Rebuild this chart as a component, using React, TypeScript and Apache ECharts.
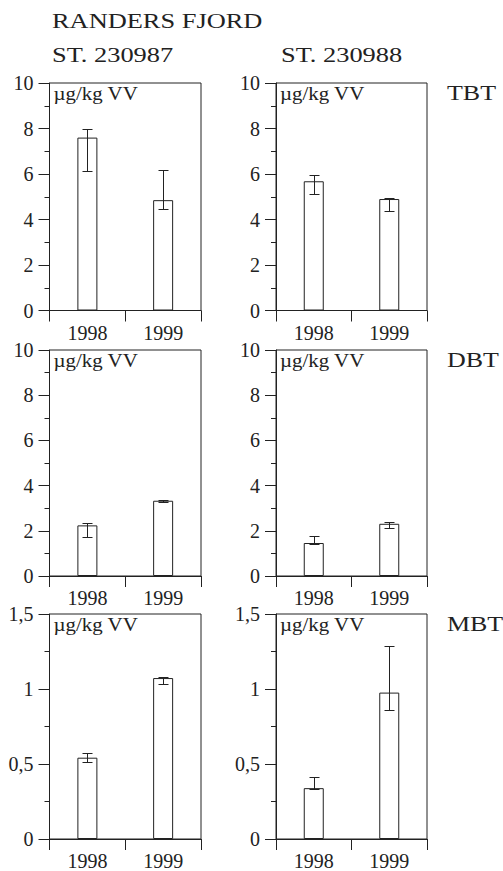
import React, { useEffect, useRef } from "react";
import * as echarts from "echarts";

// ---- Data ----
const years = ["1998", "1999"];

// TBT (µg/kg VV)
const tbtSt230987 = [7.6, 4.85];
const tbtSt230987Err = [[6.15, 7.97], [4.44, 6.19]];
const tbtSt230988 = [5.68, 4.9];
const tbtSt230988Err = [[5.1, 5.95], [4.37, 4.95]];

// DBT (µg/kg VV)
const dbtSt230987 = [2.24, 3.33];
const dbtSt230987Err = [[1.74, 2.36], [3.26, 3.35]];
const dbtSt230988 = [1.46, 2.31];
const dbtSt230988Err = [[1.4, 1.75], [2.11, 2.39]];

// MBT (µg/kg VV)
const mbtSt230987 = [0.542, 1.073];
const mbtSt230987Err = [[0.515, 0.571], [1.031, 1.077]];
const mbtSt230988 = [0.339, 0.976];
const mbtSt230988Err = [[0.333, 0.416], [0.859, 1.289]];

const axisTBT = { max: 10, interval: 2 };
const axisDBT = { max: 10, interval: 2 };
const axisMBT = { max: 1.5, interval: 0.5 };

const stations = ["ST. 230987", "ST. 230988"];
const compounds = ["TBT", "DBT", "MBT"];
const titleText = "RANDERS FJORD";
const unitText = "µg/kg VV";

const INK = "#222";
const FONT = "Liberation Serif";

const panelData = [
  { values: tbtSt230987, err: tbtSt230987Err, axis: axisTBT },
  { values: tbtSt230988, err: tbtSt230988Err, axis: axisTBT },
  { values: dbtSt230987, err: dbtSt230987Err, axis: axisDBT },
  { values: dbtSt230988, err: dbtSt230988Err, axis: axisDBT },
  { values: mbtSt230987, err: mbtSt230987Err, axis: axisMBT },
  { values: mbtSt230988, err: mbtSt230988Err, axis: axisMBT },
];

// layout (px)
const colLeft = [49.5, 276];
const colWidth = [151.5, 151];
const rowTop = [83, 350, 614];
const rowHeight = [227.5, 226, 226];

export default function App() {
  const ref = useRef<HTMLDivElement>(null);

  useEffect(() => {
    if (!ref.current) return;
    const chart = echarts.init(ref.current, null, { renderer: "svg" });

    const grids: any[] = [];
    const xAxes: any[] = [];
    const yAxes: any[] = [];
    const series: any[] = [];
    const graphics: any[] = [];

    panelData.forEach((p, i) => {
      const col = i % 2;
      const row = Math.floor(i / 2);
      const left = colLeft[col];
      const top = rowTop[row];
      grids.push({
        left,
        top,
        width: colWidth[col],
        height: rowHeight[row],
        show: true,
        borderColor: INK,
        borderWidth: 1,
        backgroundColor: "transparent",
        containLabel: false,
      });
      xAxes.push({
        type: "category",
        gridIndex: i,
        data: years,
        boundaryGap: true,
        axisLine: { show: true, lineStyle: { color: INK, width: 1 } },
        axisTick: {
          show: true,
          inside: false,
          length: 11,
          alignWithLabel: false,
          lineStyle: { color: INK, width: 1 },
        },
        axisLabel: {
          show: true,
          margin: 12,
          color: INK,
          fontFamily: FONT,
          fontSize: 20,
        },
        splitLine: { show: false },
      });
      yAxes.push({
        type: "value",
        gridIndex: i,
        min: 0,
        max: p.axis.max,
        interval: p.axis.interval,
        axisLine: { show: true, lineStyle: { color: INK, width: 1 } },
        axisTick: {
          show: true,
          inside: false,
          length: 11,
          lineStyle: { color: INK, width: 1 },
        },
        minorTick: {
          show: true,
          splitNumber: 2,
          length: 5,
          lineStyle: { color: INK, width: 1 },
        },
        axisLabel: {
          show: true,
          margin: 16,
          color: INK,
          fontFamily: FONT,
          fontSize: 20,
          formatter: (v: number) => String(v).replace(".", ","),
        },
        splitLine: { show: false },
        minorSplitLine: { show: false },
      });
      series.push({
        type: "bar",
        xAxisIndex: i,
        yAxisIndex: i,
        data: p.values,
        barWidth: 20,
        itemStyle: { color: "#fff", borderColor: INK, borderWidth: 1 },
        z: 2,
      });
      series.push({
        type: "custom",
        xAxisIndex: i,
        yAxisIndex: i,
        z: 3,
        data: p.err.map((e, k) => [k, e[0], e[1]]),
        renderItem: (params: any, api: any) => {
          const k = api.value(0);
          const lo = api.coord([k, api.value(1)]);
          const hi = api.coord([k, api.value(2)]);
          const x = Math.round(lo[0]) + 0.5;
          const yLo = Math.round(lo[1]) + 0.5;
          const yHi = Math.round(hi[1]) + 0.5;
          const hw = 5;
          const st = { stroke: INK, lineWidth: 1 };
          return {
            type: "group",
            children: [
              { type: "line", shape: { x1: x, y1: yLo, x2: x, y2: yHi }, style: st },
              { type: "line", shape: { x1: x - hw, y1: yHi, x2: x + hw, y2: yHi }, style: st },
              { type: "line", shape: { x1: x - hw, y1: yLo, x2: x + hw, y2: yLo }, style: st },
            ],
          };
        },
      });
      graphics.push({
        type: "text",
        x: left + 4,
        y: top + 10,
        scaleX: 1.1,
        style: {
          text: unitText,
          fontFamily: FONT,
          fontSize: 19,
          fill: INK,
          textVerticalAlign: "middle",
        },
      });
    });

    graphics.push({
      type: "text",
      x: 52,
      y: 20,
      scaleX: 1.2,
      style: { text: titleText, fontFamily: FONT, fontSize: 22, fill: INK, textVerticalAlign: "middle" },
    });
    stations.forEach((s, c) => {
      graphics.push({
        type: "text",
        x: c === 0 ? 52 : 281,
        y: 54,
        scaleX: 1.2,
        style: { text: s, fontFamily: FONT, fontSize: 22, fill: INK, textVerticalAlign: "middle" },
      });
    });
    compounds.forEach((c, r) => {
      graphics.push({
        type: "text",
        x: 447,
        y: rowTop[r] + 10,
        scaleX: 1.18,
        style: { text: c, fontFamily: FONT, fontSize: 22, fill: INK, textVerticalAlign: "middle" },
      });
    });

    chart.setOption({
      animation: false,
      backgroundColor: "#fff",
      grid: grids,
      xAxis: xAxes,
      yAxis: yAxes,
      series,
      graphic: graphics,
    });

    return () => chart.dispose();
  }, []);

  return (
    <div
      ref={ref}
      style={{ position: "absolute", left: 0, top: 0, width: 503, height: 871 }}
    />
  );
}
